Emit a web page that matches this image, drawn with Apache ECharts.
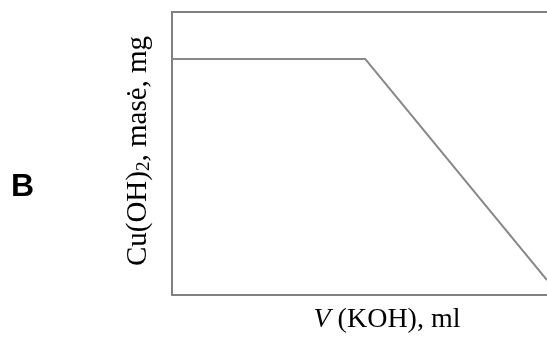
<!DOCTYPE html>
<html><head><meta charset="utf-8">
<script src="https://cdn.jsdelivr.net/npm/echarts@6/dist/echarts.min.js"></script>
<style>html,body{margin:0;padding:0;background:#fff}#c{width:547px;height:338px}</style>
</head><body><div id="c"></div>
<script>
const volumeKOH = [0, 6.18, 12];
const massCuOH2 = [8.34, 8.34, 0.53];
const xLabel = 'V (KOH), ml';
const yLabel = 'Cu(OH)2, masė, mg';
const panelLetter = 'B';

const serif = '"Liberation Serif", "Times New Roman", serif';
const frame = {show: true, onZero: false, lineStyle: {color: '#808080', width: 2}};
const hidden = {axisTick: {show: false}, axisLabel: {show: false}, splitLine: {show: false}};
const chart = echarts.init(document.getElementById('c'));
chart.setOption({
  animation: false,
  grid: {left: 172, top: 12, right: 0, bottom: 43},
  xAxis: [
    Object.assign({type: 'value', min: 0, max: 12, position: 'bottom', axisLine: frame}, hidden),
    Object.assign({type: 'value', min: 0, max: 12, position: 'top', axisLine: frame}, hidden)
  ],
  yAxis: Object.assign({type: 'value', min: 0, max: 10, position: 'left', axisLine: frame}, hidden),
  series: [{type: 'line', data: volumeKOH.map((v, i) => [v, massCuOH2[i]]), symbol: 'none', lineStyle: {color: '#888888', width: 2}}],
  graphic: [
    {type: 'text', x: 11, y: 187, style: {text: panelLetter, fontFamily: '"Liberation Sans", Arial, sans-serif', fontWeight: 'bold', fontSize: 32, fill: '#000', verticalAlign: 'middle'}},
    {type: 'text', x: 138, y: 151, rotation: Math.PI / 2, style: {
      text: '{n|Cu(OH)}{s|2}{n|, masė, mg}', align: 'center', verticalAlign: 'middle',
      rich: {n: {fontFamily: serif, fontSize: 29, fill: '#000'},
             s: {fontFamily: serif, fontSize: 19, fill: '#000', padding: [12, 0, 0, 0]}}
    }},
    {type: 'text', x: 387, y: 320, style: {
      text: '{i|V}{n| (KOH), ml}', align: 'center', verticalAlign: 'middle',
      rich: {i: {fontFamily: serif, fontStyle: 'italic', fontSize: 28, fill: '#000'},
             n: {fontFamily: serif, fontSize: 28, fill: '#000'}}
    }}
  ]
});
</script></body></html>
